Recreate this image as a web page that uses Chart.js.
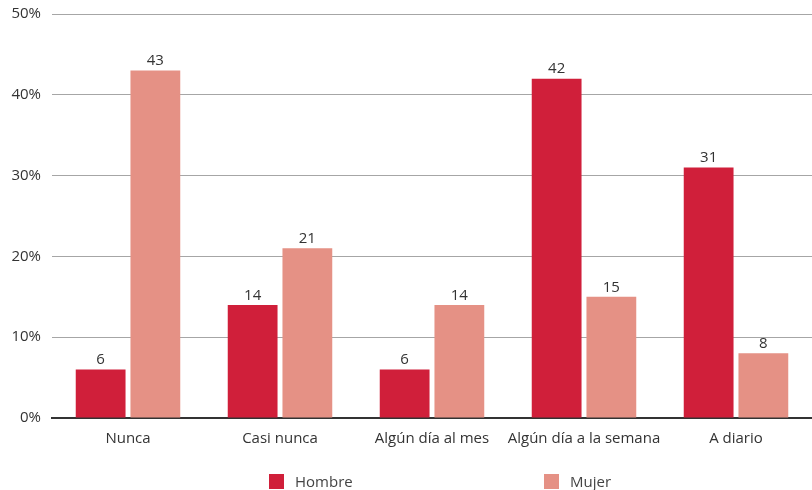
<!DOCTYPE html>
<html>
<head>
<meta charset="utf-8">
<script src="https://cdn.jsdelivr.net/npm/chart.js"></script>
<style>
  body { margin: 0; background: #fff; }
  #wrap { position: relative; width: 812px; height: 490px; }
  #legend { position: absolute; top: 471px; left: 0; width: 812px; height: 17px; font: 15px "Open Sans", sans-serif; color: #444; }
  .item { position: absolute; top: 0; display: flex; align-items: center; }
  .box { width: 15px; height: 15px; margin-right: 11px; }
</style>
</head>
<body>
<div id="wrap">
  <canvas id="myChart" width="812" height="490"></canvas>
  <div id="legend"></div>
</div>
<script>
const categorias = ["Nunca", "Casi nunca", "Algún día al mes", "Algún día a la semana", "A diario"];
const hombre = [6, 14, 6, 42, 31];
const mujer = [43, 21, 14, 15, 8];
const series = ["Hombre", "Mujer"];
const colores = ["#d01f3a", "#e59185"];

// etiquetas con el valor encima de cada barra
const etiquetas = {
  id: "etiquetas",
  afterDatasetsDraw(chart) {
    const ctx = chart.ctx;
    ctx.save();
    ctx.font = "15px 'Open Sans', sans-serif";
    ctx.fillStyle = "#333";
    ctx.textAlign = "center";
    ctx.textBaseline = "bottom";
    chart.data.datasets.forEach((ds, i) => {
      chart.getDatasetMeta(i).data.forEach((bar, j) => {
        ctx.fillText(ds.data[j], bar.x, bar.y - 2);
      });
    });
    ctx.restore();
  }
};

const ctx = document.getElementById("myChart");

new Chart(ctx, {
  type: "bar",
  data: {
    labels: categorias,
    datasets: [
      { label: series[0], data: hombre, backgroundColor: colores[0] },
      { label: series[1], data: mujer, backgroundColor: colores[1] },
    ],
  },
  options: {
    responsive: false,
    animation: false,
    layout: { padding: { top: 14, right: 0, bottom: 42, left: 0 } },
    datasets: { bar: { categoryPercentage: 0.72, barPercentage: 0.91 } },
    plugins: { legend: { display: false }, tooltip: { enabled: false } },
    scales: {
      x: {
        grid: { display: false },
        border: { color: "#333", width: 2 },
        ticks: { color: "#333", font: { family: "Open Sans", size: 15 }, padding: 4, maxRotation: 0, autoSkip: false },
        afterFit: (s) => { s.height = 30; },
      },
      y: {
        beginAtZero: true,
        max: 50,
        border: { display: false },
        grid: { color: "#a6a6a6", drawTicks: false },
        ticks: { stepSize: 10, color: "#333", padding: 11, font: { family: "Open Sans", size: 15 }, callback: (v) => v + "%" },
        afterFit: (s) => { s.width = 52; s.paddingTop = 0; s.paddingBottom = 0; },
      },
    },
  },
  plugins: [etiquetas],
});

// leyenda
const legend = document.getElementById("legend");
const posiciones = [269, 544];
series.forEach((s, i) => {
  const el = document.createElement("div");
  el.className = "item";
  el.style.left = posiciones[i] + "px";
  el.innerHTML = '<span class="box" style="background:' + colores[i] + '"></span>' + s;
  legend.appendChild(el);
});
</script>
</body>
</html>
